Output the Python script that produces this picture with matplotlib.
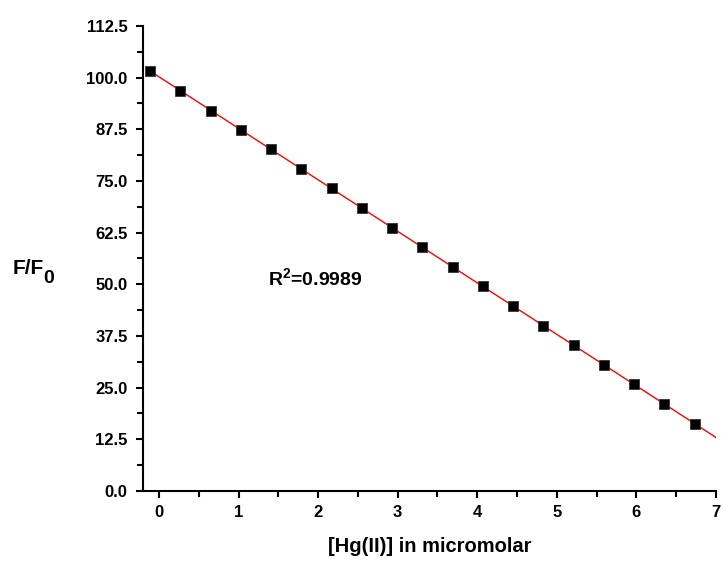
import matplotlib
matplotlib.use('Agg')
import matplotlib.pyplot as plt
from matplotlib.ticker import MultipleLocator, FormatStrFormatter
import numpy as np

# data
hg_conc = [-0.11, 0.27, 0.65, 1.03, 1.41, 1.79, 2.17, 2.55, 2.93, 3.31,
           3.69, 4.07, 4.45, 4.83, 5.21, 5.59, 5.97, 6.35, 6.73]
f_ratio = [101.6, 96.8, 92.0, 87.4, 82.7, 77.9, 73.2, 68.4, 63.7, 59.0,
           54.2, 49.5, 44.8, 40.0, 35.3, 30.5, 25.8, 21.0, 16.3]
r2_text = "0.9989"

plt.rcParams['font.family'] = ['Liberation Sans', 'DejaVu Sans']
plt.rcParams['font.weight'] = 'bold'
plt.rcParams['mathtext.fontset'] = 'custom'
plt.rcParams['mathtext.rm'] = 'Liberation Sans:bold'
plt.rcParams['mathtext.bf'] = 'Liberation Sans:bold'

fig = plt.figure(figsize=(7.23, 5.61), dpi=100)
ax = fig.add_axes([0.1978, 0.1248, 0.7925, 0.8289])

# linear fit, drawn from first point to the right edge
k, b = np.polyfit(hg_conc, f_ratio, 1)
xf = np.array([hg_conc[0], 7.0])
ax.plot(xf, k * xf + b, color='red', lw=1.0, zorder=2)
ax.plot(hg_conc, f_ratio, 's', color='black', markersize=6.8,
        markeredgecolor='#333333', markeredgewidth=0.6, zorder=3)

ax.set_xlim(-0.2, 7)
ax.set_ylim(0, 112.5)
ax.xaxis.set_major_locator(MultipleLocator(1))
ax.xaxis.set_minor_locator(MultipleLocator(0.5))
ax.yaxis.set_major_locator(MultipleLocator(12.5))
ax.yaxis.set_minor_locator(MultipleLocator(6.25))
ax.yaxis.set_major_formatter(FormatStrFormatter('%.1f'))

for s in ['top', 'right']:
    ax.spines[s].set_visible(False)
for s in ['left', 'bottom']:
    ax.spines[s].set_linewidth(1.5)

ax.tick_params(which='major', direction='out', length=5, width=1.5,
               labelsize=12)
ax.tick_params(axis='y', which='major', pad=6)
ax.tick_params(axis='x', which='major', pad=5)
ax.tick_params(which='minor', direction='out', length=4, width=1.5)
for lab in ax.get_xticklabels() + ax.get_yticklabels():
    lab.set_fontweight('bold')

ax.set_xlabel('[Hg(II)] in micromolar', fontsize=14.5, fontweight='bold',
              labelpad=12)

fig.text(0.018, 0.5116, 'F/F', fontsize=15, fontweight='bold', va='baseline')
fig.text(0.060, 0.4955, '0', fontsize=14, fontweight='bold', va='baseline')

ax.text(1.37, 51.3, r'R$^{2}$=' + r2_text, fontsize=14, fontweight='bold',
        va='center', ha='left')

fig.savefig('out.png', dpi=100)
plt.close(fig)
